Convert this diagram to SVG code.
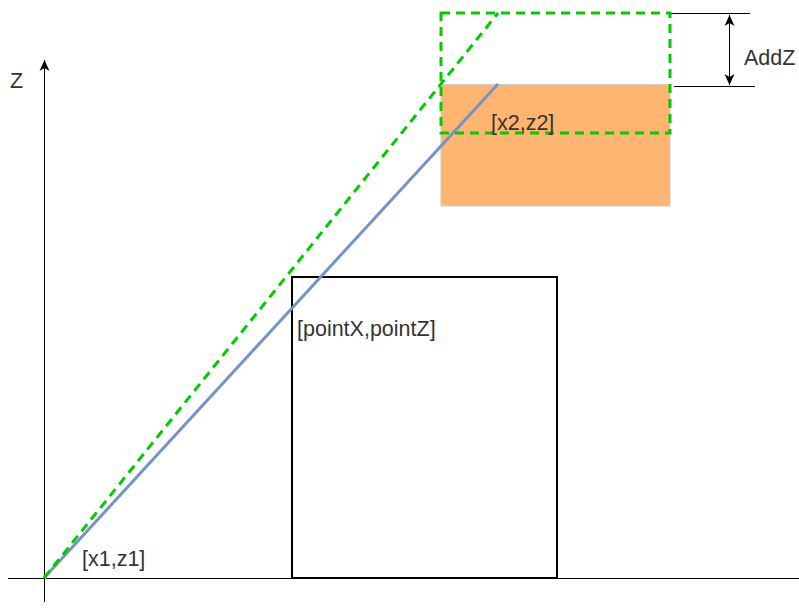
<svg xmlns="http://www.w3.org/2000/svg" width="799" height="612" viewBox="0 0 799 612">
<defs>
<marker id="arr" markerWidth="12" markerHeight="12" refX="11" refY="6" orient="auto-start-reverse" markerUnits="userSpaceOnUse">
<path d="M0,1 L11,6 L0,11 L3,6 Z" fill="#000"/>
</marker>
<style>
text{font-family:"Liberation Sans",Arial,sans-serif;font-size:21.5px;fill:#333}
.ax{stroke:#000;stroke-width:1;fill:none}
.dash{stroke:#00CC00;stroke-width:3;fill:none;stroke-dasharray:9,6}
</style>
</defs>
<rect width="799" height="612" fill="#fff"/>
<g id="connectors">
<line class="ax" x1="8" y1="578.5" x2="799" y2="578.5"/>
<line class="ax" x1="44.5" y1="602" x2="44.5" y2="60" marker-end="url(#arr)"/>
</g>
<g id="box">
<rect x="292" y="277" width="265" height="301" fill="none" stroke="#000" stroke-width="2"/>
</g>
<g id="target">
<rect x="441" y="84.5" width="229" height="121.5" fill="#FFB570" stroke="#ccc" stroke-width="1"/>
</g>
<g id="ray">
<line x1="44" y1="578" x2="498" y2="84" stroke="#7593C6" stroke-width="3"/>
</g>
<g id="raised">
<rect class="dash" x="441" y="13" width="229" height="120"/>
<line class="dash" x1="44" y1="578" x2="498" y2="13"/>
</g>
<g id="dimension">
<line class="ax" x1="671" y1="13.5" x2="750" y2="13.5"/>
<line class="ax" x1="674" y1="86.5" x2="755" y2="86.5"/>
<line class="ax" x1="729.5" y1="15" x2="729.5" y2="85" marker-start="url(#arr)" marker-end="url(#arr)"/>
</g>
<g id="labels">
<text x="10" y="88">Z</text>
<text x="744" y="65">AddZ</text>
<text x="491" y="130">[x2,z2]</text>
<text x="297" y="336">[pointX,pointZ]</text>
<text x="82" y="566">[x1,z1]</text>
</g>
</svg>
